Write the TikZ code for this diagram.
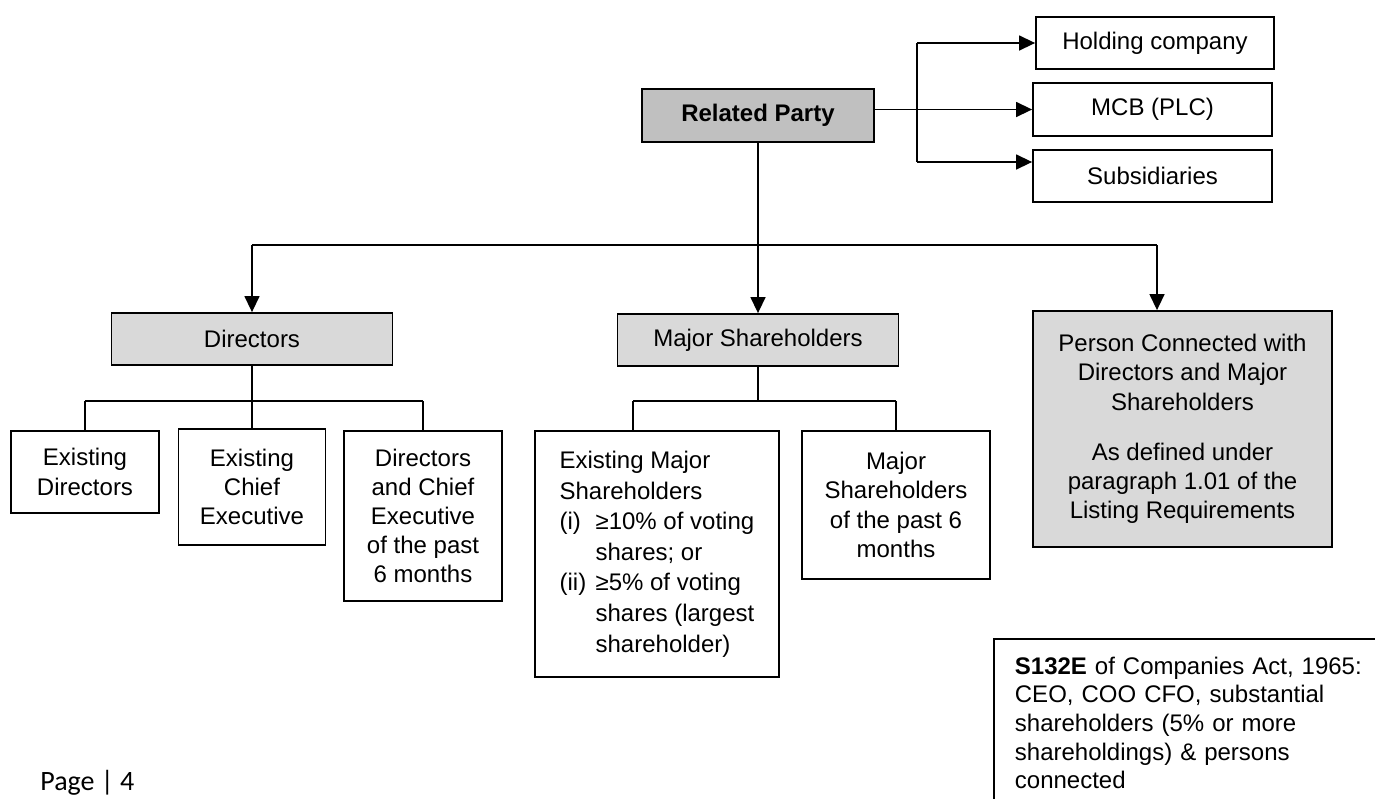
\documentclass[tikz,border=0pt]{standalone}
\usepackage{fontspec}
\setmainfont{Liberation Sans}
\newfontfamily\footerfont{Carlito}
\usetikzlibrary{positioning, arrows.meta}
\definecolor{HeadColor}{RGB}{192,192,192}
\definecolor{GroupColor}{RGB}{217,217,217}
\tikzstyle{arrow} = [line width=0.7pt, -{Triangle[length=8pt,width=7.5pt]}]
\tikzstyle{link} = [line width=0.7pt]
\tikzset{
  party box/.style={draw, line width=0.9pt, inner sep=0pt, align=center, fill=HeadColor, font=\fontsize{12}{14.6}\selectfont\bfseries},
  group box/.style={draw, line width=0.9pt, inner sep=0pt, align=center, fill=GroupColor, font=\fontsize{12}{14.6}\selectfont},
  entity box/.style={draw, line width=0.9pt, inner sep=0pt, align=center, fill=white, font=\fontsize{12}{14.6}\selectfont},
  note box/.style={draw, line width=0.9pt, inner xsep=10.5pt, inner ysep=9pt, align=left, anchor=north west, font=\fontsize{12}{14.3}\selectfont}
}

\begin{document}
\begin{tikzpicture}[x=0.5pt, y=-0.5pt]
    \useasboundingbox (0,0) rectangle (1375,798);

    % Related party
    \node[party box, minimum width=116pt, minimum height=26.5pt] (rp) at (758,115.5) {Related Party};

    % Companies of the group
    \node[entity box, minimum width=119pt, minimum height=26pt] (hold) at (1155,43) {Holding company};
    \node[entity box, minimum width=119.5pt, minimum height=26.5pt] (mcb) at (1152.5,109.5) {MCB (PLC)};
    \node[entity box, minimum width=119.5pt, minimum height=26pt] (subs) at (1152.5,176) {Subsidiaries};

    \coordinate (fork) at (917,0);
    \coordinate (subs in) at ([yshift=7pt]subs.west);
    \draw[arrow] (rp.east |- mcb.west) -- (mcb.west);
    \draw[link] (fork |- hold.west) -- (fork |- subs in);
    \draw[arrow] (fork |- hold.west) -- (hold.west);
    \draw[arrow] (fork |- subs in) -- (subs in);

    % Second level
    \node[group box, minimum width=140.5pt, minimum height=26pt] (dir) at (252,339) {Directors};
    \node[group box, minimum width=140.5pt, minimum height=26pt] (maj) at (758,340) {Major Shareholders};
    \node[group box, minimum width=149.5pt, minimum height=118pt] (pc) at (1182.5,429)
        {Person Connected with\\Directors and Major\\Shareholders\\[10.5pt]As defined under\\paragraph 1.01 of the\\Listing Requirements};

    \coordinate (bar) at (0,245);
    \coordinate (pc in) at ([xshift=-12.75pt]pc.north);
    \draw[link] (dir.north |- bar) -- (pc in |- bar);
    \draw[arrow] (rp.south) -- (rp.south |- maj.north);
    \draw[arrow] (dir.north |- bar) -- (dir.north);
    \draw[arrow] (pc in |- bar) -- (pc in);

    % Directors
    \node[entity box, minimum width=74pt, minimum height=41pt] (ed) at (85,472) {Existing\\Directors};
    \node[entity box, minimum width=73.5pt, minimum height=58pt] (ece) at (252,487) {Existing\\Chief\\Executive};
    \node[entity box, minimum width=79pt, minimum height=85pt] (dce) at (423,516) {Directors\\and Chief\\Executive\\of the past\\6 months};

    \coordinate (dir bar) at (0,401);
    \draw[link] (dir.south) -- (dir.south |- dir bar);
    \draw[link] (ed.north |- dir bar) -- (dce.north |- dir bar);
    \foreach \n in {ed,ece,dce}
        \draw[link] (\n.north |- dir bar) -- (\n.north);

    % Major shareholders
    \node[entity box, minimum width=122pt, minimum height=123pt, align=left, font=\fontsize{12}{15.3}\selectfont] (ems) at (657,554)
        {Existing Major\\Shareholders\\\makebox[18pt][l]{(i)}≥10\% of voting\\\hspace*{18pt}shares; or\\\makebox[18pt][l]{(ii)}≥5\% of voting\\\hspace*{18pt}shares (largest\\\hspace*{18pt}shareholder)};
    \node[entity box, minimum width=94pt, minimum height=74pt] (mps) at (896,505) {Major\\Shareholders\\of the past 6\\months};

    \coordinate (maj bar) at (0,401);
    \coordinate (ems in) at ([xshift=-12pt]ems.north);
    \draw[link] (maj.south) -- (maj.south |- maj bar);
    \draw[link] (ems in |- maj bar) -- (mps.north |- maj bar);
    \draw[link] (ems in |- maj bar) -- (ems in);
    \draw[link] (mps.north |- maj bar) -- (mps.north);

    % Companies Act note
    \node[note box, text width=180pt] (act) at (993,638)
        {\textbf{S132E} of Companies Act, 1965:\\CEO, COO CFO, substantial\\shareholders (5\% or more\\shareholdings) \& persons\\connected};

    % Footer
    \node[anchor=base west, inner sep=0pt, font=\footerfont\fontsize{14}{16}\selectfont] (page) at (40,790) {Page | 4};
\end{tikzpicture}
\end{document}
